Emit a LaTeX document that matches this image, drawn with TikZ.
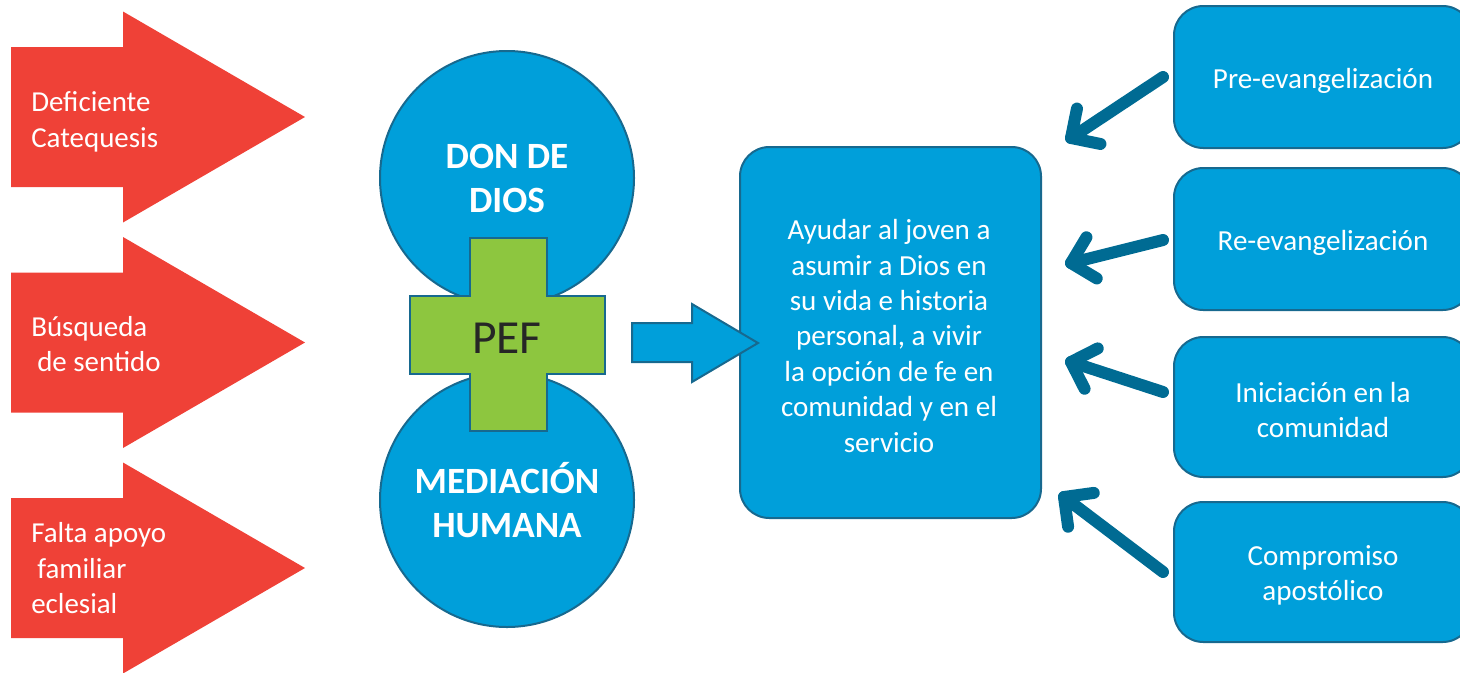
\documentclass[tikz,border=0pt]{standalone}
\usepackage{fontspec}
\setmainfont{Carlito}
\usetikzlibrary{calc}
\definecolor{cblue}{HTML}{009FDA}
\definecolor{cedge}{HTML}{17698F}
\definecolor{cred}{HTML}{EF4137}
\definecolor{cgreen}{HTML}{8DC63F}
\definecolor{carrow}{HTML}{006B93}
\begin{document}
\begin{tikzpicture}[x=0.75pt,y=-0.75pt,
  redarrow/.style={fill=cred,draw=none},
  redtext/.style={anchor=west,inner sep=0pt,align=left,text=white,font=\fontsize{21.7}{26.6}\selectfont},
  bluecircle/.style={circle,fill=cblue,draw=cedge,line width=1.5pt,minimum size=190.5pt,inner sep=0pt,text=white,align=center,font=\bfseries\fontsize{27.8}{33}\selectfont},
  crossshape/.style={fill=cgreen,draw=cedge,line width=1.5pt},
  bluebox/.style={rectangle,rounded corners=22pt,fill=cblue,draw=cedge,line width=1.5pt,text=white,align=center,inner sep=0pt,font=\fontsize{21.8}{26.2}\selectfont},
  conn/.style={draw=carrow,line width=9pt,line cap=round,line join=round}
]
\useasboundingbox (0,0) rectangle (1460,672);

% red arrows
\foreach \cy in {117,342.5,568}{
  \fill[redarrow] (11,\cy-70) -- (123,\cy-70) -- (123,\cy-105.5) -- (305,\cy) -- (123,\cy+105.5) -- (123,\cy+70) -- (11,\cy+70) -- cycle;
}
\node[redtext] (r1) at (31,122) {Deficiente\\Catequesis};
\node[redtext] (r2) at (31,344) {Búsqueda\\\hspace*{4.5pt}de sentido};
\node[redtext] (r3) at (31,568.5) {Falta apoyo\\\hspace*{4.5pt}familiar\\eclesial};

% circles
\node[bluecircle] (don) at (507,178) {DON DE\\DIOS};
\node[bluecircle] (med) at (507,500) {MEDIACIÓN\\HUMANA};

% cross
\draw[crossshape] (469.5,238) -- (546.5,238) -- (546.5,296) -- (604.5,296) -- (604.5,374) -- (546.5,374) -- (546.5,431) -- (469.5,431) -- (469.5,374) -- (410,374) -- (410,296) -- (469.5,296) -- cycle;
\node[text=black!85,font=\fontsize{35.6}{40}\selectfont,inner sep=0pt] (pef) at (507,338) {PEF};

% center box
\node[bluebox,minimum width=225.75pt,minimum height=278.25pt] (goal) at (890.5,332.5) {};
\node[text=white,align=center,inner sep=0pt,font=\fontsize{21.8}{26.6}\selectfont] (goaltext) at (889,336) {Ayudar al joven a\\asumir a Dios en\\su vida e historia\\personal, a vivir\\la opción de fe en\\comunidad y en el\\servicio};

% center arrow
\draw[fill=cblue,draw=cedge,line width=1.5pt] (632,323) -- (692,323) -- (692,304) -- (758,343) -- (692,382) -- (692,362) -- (632,362) -- cycle;

% right boxes
\node[bluebox,minimum width=223.5pt,minimum height=106.5pt,text depth=0pt] (b1) at (1323,77) {};
\node[text=white,font=\fontsize{21.8}{26.2}\selectfont,inner sep=0pt] (b1t) at (1323,81) {Pre-evangelización};
\node[bluebox,minimum width=223.5pt,minimum height=106.5pt] (b2) at (1323,239) {};
\node[text=white,font=\fontsize{21.8}{26.2}\selectfont,inner sep=0pt] (b2t) at (1323,243) {Re-evangelización};
\node[bluebox,minimum width=223.5pt,minimum height=105pt] (b3) at (1323,407) {};
\node[text=white,font=\fontsize{21.8}{26.2}\selectfont,inner sep=0pt,align=center] (b3t) at (1323,410) {Iniciación en la\\comunidad};
\node[bluebox,minimum width=223.5pt,minimum height=105pt] (b4) at (1323,572) {};
\node[text=white,font=\fontsize{21.8}{26.2}\selectfont,inner sep=0pt,align=center] (b4t) at (1323,575) {Compromiso\\apostólico};

% arrows from boxes
\coordinate (s1) at (1163,77);  \coordinate (t1) at (1071,138);
\coordinate (s2) at (1163,240); \coordinate (t2) at (1071,263);
\coordinate (s3) at (1163,392); \coordinate (t3) at (1071,362);
\coordinate (s4) at (1163,572); \coordinate (t4) at (1064,497);
\foreach \i in {1,2,3,4}{
  \draw[conn] (s\i) -- (t\i);
  \draw[conn] ($(t\i)!22.5pt!45:(s\i)$) -- (t\i) -- ($(t\i)!22.5pt!-45:(s\i)$);
}
\end{tikzpicture}
\end{document}
